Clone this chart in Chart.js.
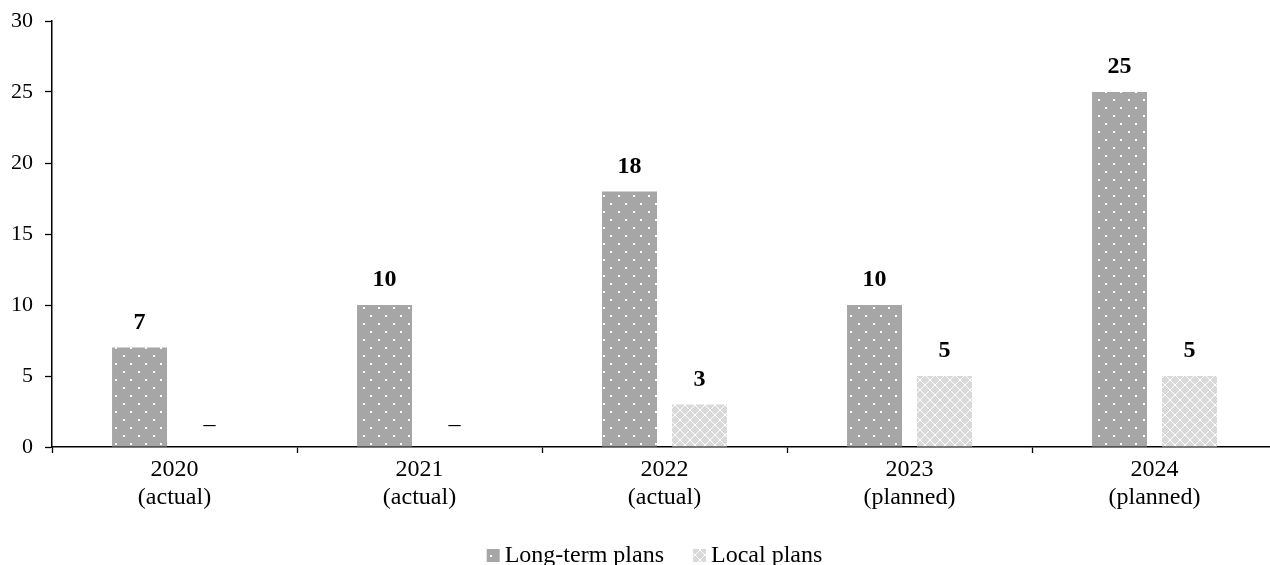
<!DOCTYPE html>
<html>
<head>
<meta charset="utf-8">
<script src="https://cdn.jsdelivr.net/npm/chart.js@4"></script>
<style>
  html, body { margin: 0; padding: 0; background: #fff; overflow: hidden; }
  #wrap { width: 1277px; height: 565px; }
</style>
</head>
<body>
<div id="wrap"><canvas id="plans"></canvas></div>
<script>
// Plan counts by year
const years = [['2020', '(actual)'], ['2021', '(actual)'], ['2022', '(actual)'], ['2023', '(planned)'], ['2024', '(planned)']];
const longTerm = [7, 10, 18, 10, 25];
const localPlans = [0, 0, 3, 5, 5];
const yTicks = [0, 5, 10, 15, 20, 25, 30];

const FONT = '"Liberation Serif", "Times New Roman", serif';

// dotted grey fill
function dotPattern() {
  const c = document.createElement('canvas');
  c.width = 15; c.height = 16;
  const g = c.getContext('2d');
  g.fillStyle = '#a6a6a6';
  g.fillRect(0, 0, 15, 16);
  g.fillStyle = '#ffffff';
  g.fillRect(3, 3, 2, 2);
  g.fillRect(10, 11, 2, 2);
  return g.createPattern(c, 'repeat');
}

// light diamond lattice fill
function latticePattern() {
  const c = document.createElement('canvas');
  c.width = 10; c.height = 10;
  const g = c.getContext('2d');
  g.fillStyle = '#d9d9d9';
  g.fillRect(0, 0, 10, 10);
  g.fillStyle = '#ffffff';
  for (let i = 0; i < 10; i++) {
    g.fillRect(i, i, 1, 1);
    g.fillRect(9 - i, i, 1, 1);
  }
  return g.createPattern(c, 'repeat');
}

// numbers above bars, a dash where the value is zero
const valueLabels = {
  id: 'valueLabels',
  afterDatasetsDraw(chart) {
    const ctx = chart.ctx;
    ctx.save();
    ctx.fillStyle = '#000';
    ctx.textAlign = 'center';
    ctx.textBaseline = 'middle';
    chart.data.datasets.forEach((ds, i) => {
      chart.getDatasetMeta(i).data.forEach((bar, j) => {
        const v = ds.data[j];
        if (v === 0) {
          ctx.font = '24px ' + FONT;
          ctx.fillText('\u2013', bar.x, bar.y - 22);
        } else {
          ctx.font = 'bold 24px ' + FONT;
          ctx.fillText(String(v), bar.x, bar.y - 25);
        }
      });
    });
    ctx.restore();
  }
};

// legend row under the axis: small swatch, then the series name
const bottomLegend = {
  id: 'bottomLegend',
  afterDraw(chart) {
    const ctx = chart.ctx;
    const box = 13, gap = 5, spacing = 29, cy = 555;
    ctx.save();
    ctx.font = '24px ' + FONT;
    ctx.textBaseline = 'middle';
    ctx.textAlign = 'left';
    const items = chart.data.datasets.map(ds => ({ text: ds.label, fill: ds.backgroundColor, w: ctx.measureText(ds.label).width }));
    const total = items.reduce((s, it) => s + box + gap + it.w, 0) + spacing * (items.length - 1);
    let x = chart.width / 2 + 16 - total / 2;
    items.forEach(it => {
      ctx.fillStyle = it.fill;
      ctx.fillRect(x, cy - 6, box, box);
      ctx.fillStyle = '#000';
      ctx.fillText(it.text, x + box + gap, cy + 1);
      x += box + gap + it.w + spacing;
    });
    ctx.restore();
  }
};

new Chart(document.getElementById('plans'), {
  type: 'bar',
  data: {
    labels: years,
    datasets: [
      { label: 'Long-term plans', data: longTerm, backgroundColor: dotPattern(), borderWidth: 0 },
      { label: 'Local plans', data: localPlans, backgroundColor: latticePattern(), borderWidth: 0 }
    ]
  },
  options: {
    responsive: true,
    maintainAspectRatio: false,
    animation: false,
    categoryPercentage: 0.571,
    barPercentage: 0.786,
    layout: { padding: { top: 21, right: 0, left: 0, bottom: 52 } },
    plugins: {
      tooltip: { enabled: false },
      legend: { display: false }
    },
    scales: {
      x: {
        afterFit(axis) { axis.height = 66; axis.paddingLeft = 0; axis.paddingRight = 0; },
        grid: { drawOnChartArea: false, tickLength: 6, tickColor: '#000', tickWidth: 1.3 },
        border: { color: '#000', width: 1.5 },
        ticks: { color: '#000', font: { family: FONT, size: 24, lineHeight: 1.17 }, padding: 3, maxRotation: 0 }
      },
      y: {
        min: 0,
        max: 30,
        afterBuildTicks(axis) { axis.ticks = yTicks.map(v => ({ value: v })); },
        afterFit(axis) { axis.width = 52; axis.paddingTop = 0; axis.paddingBottom = 0; },
        grid: { drawOnChartArea: false, tickLength: 7, tickColor: '#000', tickWidth: 1.3 },
        border: { color: '#000', width: 1.5 },
        ticks: { color: '#000', font: { family: FONT, size: 22 }, padding: 12 }
      }
    }
  },
  plugins: [valueLabels, bottomLegend]
});
</script>
</body>
</html>
